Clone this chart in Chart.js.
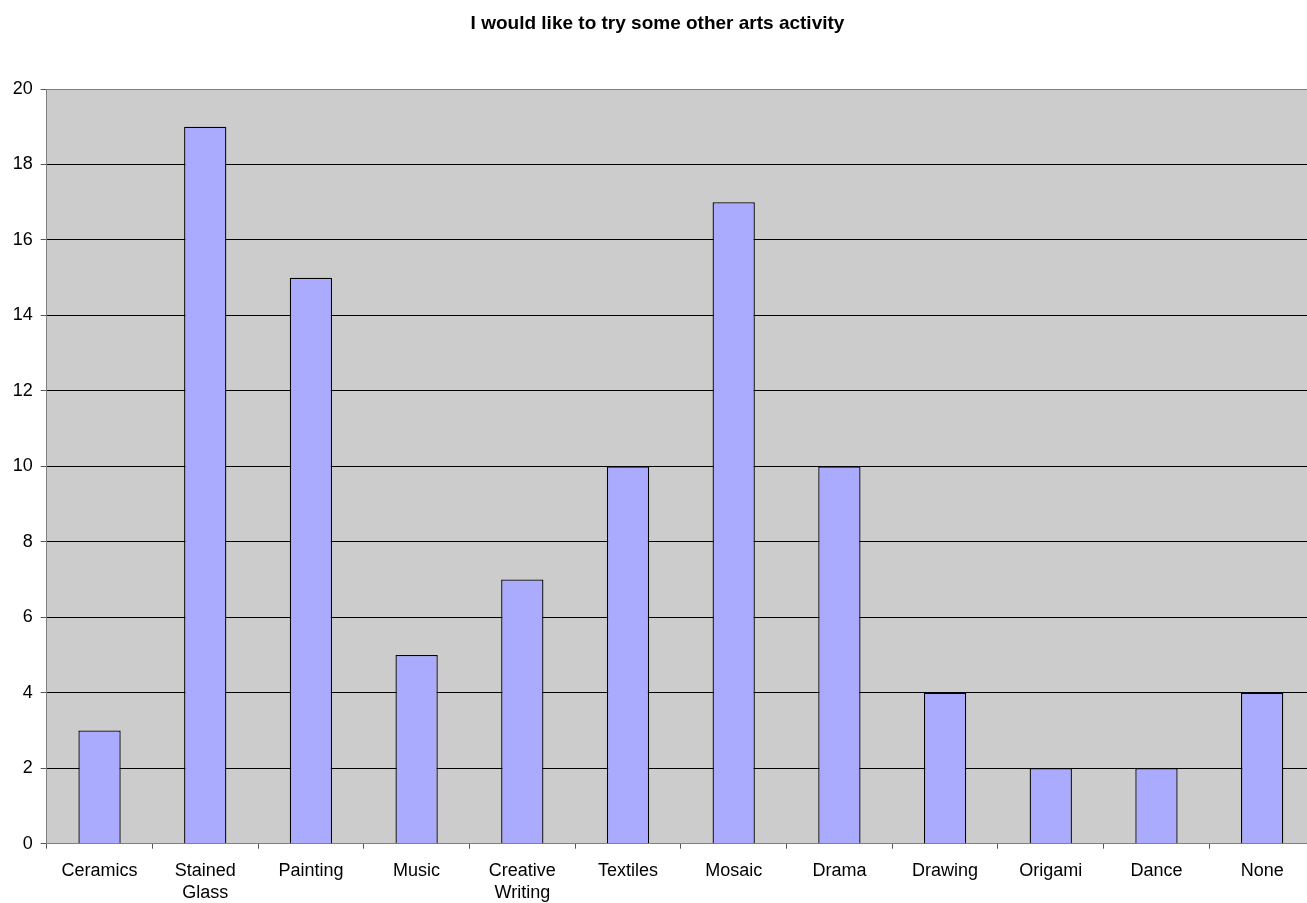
<!DOCTYPE html>
<html>
<head>
<meta charset="utf-8">
<script src="https://cdn.jsdelivr.net/npm/chart.js@4"></script>
<style>
html,body{margin:0;padding:0;background:#fff;overflow:hidden;}
canvas{display:block;}
</style>
</head>
<body>
<canvas id="c" width="1326" height="903"></canvas>
<script>
const titleText = 'I would like to try some other arts activity';
const categories = ['Ceramics', ['Stained','Glass'], 'Painting', 'Music', ['Creative','Writing'], 'Textiles', 'Mosaic', 'Drama', 'Drawing', 'Origami', 'Dance', 'None'];
const values = [3, 19, 15, 5, 7, 10, 17, 10, 4, 2, 2, 4];
const yTicks = [0, 2, 4, 6, 8, 10, 12, 14, 16, 18, 20];

const FONT = "'Liberation Sans', Arial, sans-serif";

const plotBg = {
  id: 'plotBg',
  beforeDraw(chart) {
    const {ctx, chartArea: a} = chart;
    ctx.save();
    ctx.fillStyle = '#ffffff';
    ctx.fillRect(0, 0, chart.width, chart.height);
    ctx.fillStyle = '#cccccc';
    ctx.fillRect(a.left, a.top, a.right - a.left, a.bottom - a.top);
    ctx.restore();
  }
};

new Chart(document.getElementById('c'), {
  type: 'bar',
  data: {
    labels: categories,
    datasets: [{
      data: values,
      backgroundColor: '#aaaaff',
      borderColor: '#000000',
      borderWidth: 1.3,
      barPercentage: 0.4,
      categoryPercentage: 1.0
    }]
  },
  options: {
    responsive: false,
    animation: false,
    devicePixelRatio: 1,
    layout: { padding: { left: 0, right: 11, top: 0, bottom: 0 } },
    plugins: {
      legend: { display: false },
      tooltip: { enabled: false },
      title: {
        display: true,
        text: titleText,
        color: '#000',
        font: { family: FONT, size: 19, weight: 'bold', lineHeight: 1.2 },
        padding: { top: 12.5, bottom: 53.7 }
      }
    },
    scales: {
      x: {
        offset: true,
        grid: {
          offset: true,
          drawOnChartArea: false,
          drawTicks: true,
          tickLength: 5,
          tickColor: '#555555',
          tickWidth: 1
        },
        border: { display: true, color: '#808080', width: 1 },
        ticks: {
          color: '#000',
          font: { family: FONT, size: 18, lineHeight: 1.2 },
          maxRotation: 0,
          minRotation: 0,
          autoSkip: false,
          padding: 12
        },
        afterFit(scale) { scale.height = 59.3; }
      },
      y: {
        min: 0,
        max: 20,
        afterBuildTicks(scale) { scale.ticks = yTicks.map(v => ({ value: v })); },
        grid: {
          color: (c) => (c.tick && (c.tick.value === 20 || c.tick.value === 0)) ? '#808080' : '#000000',
          lineWidth: 1,
          drawTicks: true,
          tickLength: 6,
          tickColor: '#555555'
        },
        border: { display: true, color: '#808080', width: 1 },
        ticks: {
          color: '#000',
          font: { family: FONT, size: 18 },
          padding: 8
        },
        afterFit(scale) { scale.width = 46.7; }
      }
    }
  },
  plugins: [plotBg]
});
</script>
</body>
</html>
